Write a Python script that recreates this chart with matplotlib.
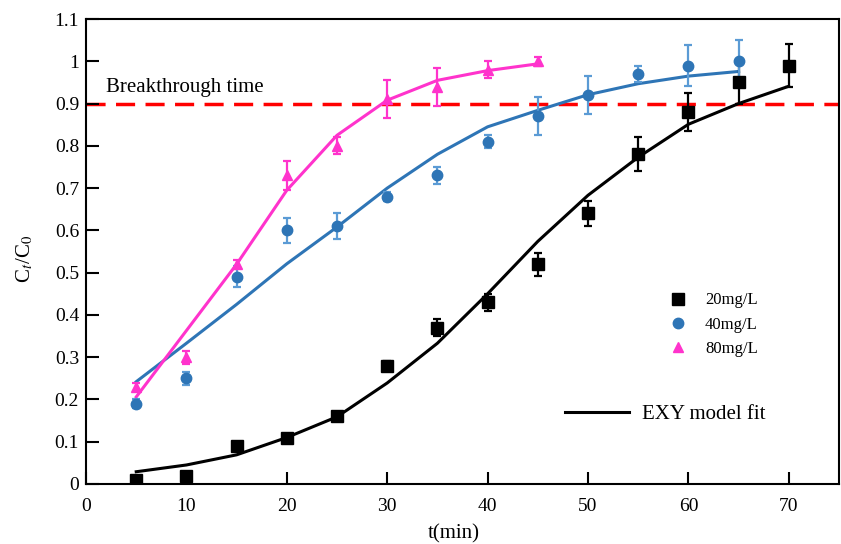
import matplotlib
matplotlib.use("Agg")
import matplotlib.pyplot as plt
from matplotlib.lines import Line2D
from matplotlib.ticker import FormatStrFormatter

plt.rcParams['font.family'] = ['Liberation Serif', 'DejaVu Serif']
plt.rcParams['mathtext.fontset'] = 'stix'

# sampling times (min)
t20 = [5, 10, 15, 20, 25, 30, 35, 40, 45, 50, 55, 60, 65, 70]
t40 = [5, 10, 15, 20, 25, 30, 35, 40, 45, 50, 55, 60, 65]
t80 = [5, 10, 15, 20, 25, 30, 35, 40, 45]

# measured Ct/C0 and standard deviations
c20 = [0.01, 0.02, 0.09, 0.11, 0.16, 0.28, 0.37, 0.43, 0.52, 0.64, 0.78, 0.88, 0.95, 0.99]
e20 = [0.005, 0.005, 0.008, 0.008, 0.008, 0.01, 0.02, 0.02, 0.027, 0.03, 0.04, 0.045, 0.05, 0.05]
c40 = [0.19, 0.25, 0.49, 0.60, 0.61, 0.68, 0.73, 0.81, 0.87, 0.92, 0.97, 0.99, 1.00]
e40 = [0.01, 0.015, 0.025, 0.03, 0.03, 0.01, 0.02, 0.015, 0.045, 0.045, 0.02, 0.048, 0.05]
c80 = [0.23, 0.30, 0.52, 0.73, 0.80, 0.91, 0.94, 0.98, 1.00]
e80 = [0.01, 0.015, 0.01, 0.035, 0.02, 0.045, 0.045, 0.02, 0.01]

# EXY model fitted curves
fit20 = [0.029, 0.045, 0.069, 0.11, 0.159, 0.239, 0.333, 0.45, 0.574, 0.683, 0.773, 0.851, 0.90, 0.941]
fit40 = [0.242, 0.333, 0.425, 0.521, 0.608, 0.70, 0.78, 0.845, 0.884, 0.921, 0.947, 0.965, 0.976]
fit80 = [0.206, 0.363, 0.52, 0.695, 0.825, 0.908, 0.955, 0.978, 0.994]

breakthrough = 0.9

blue = '#2E75B6'
blue_err = '#5B9BD5'
pink = '#FF33CC'

fig = plt.figure(figsize=(8.41, 5.44), dpi=100)
ax = fig.add_axes([0.1023, 0.1103, 0.8953, 0.8547])

ax.axhline(breakthrough, color='#FF0000', lw=2.5, ls=(0, (5.5, 3)), zorder=1)

ax.plot(t20, fit20, color='black', lw=2.2, zorder=2)
ax.plot(t40, fit40, color=blue, lw=2.2, zorder=2)
ax.plot(t80, fit80, color=pink, lw=2.2, zorder=2)

ax.errorbar(t20, c20, yerr=e20, fmt='s', color='black', ms=9, ecolor='black',
            elinewidth=1.6, capsize=3, capthick=1.6, zorder=3)
ax.errorbar(t40, c40, yerr=e40, fmt='o', color=blue, ms=7.5, ecolor=blue_err,
            elinewidth=1.6, capsize=3, capthick=1.6, zorder=3)
ax.errorbar(t80, c80, yerr=e80, fmt='^', color=pink, ms=7.5, ecolor=pink,
            elinewidth=1.6, capsize=3, capthick=1.6, zorder=3)

ax.text(2, 0.915, 'Breakthrough time', fontsize=15, ha='left', va='bottom')

ax.set_xlim(0, 75)
ax.set_ylim(0, 1.1)
ax.set_xticks(range(0, 71, 10))
ax.set_yticks([i / 10 for i in range(12)])
ax.yaxis.set_major_formatter(FormatStrFormatter('%g'))
ax.tick_params(direction='in', length=9, width=1.5, labelsize=14)
ax.tick_params(axis='x', pad=10)
ax.tick_params(axis='y', pad=5)
for s in ax.spines.values():
    s.set_linewidth(1.5)

ax.set_xlabel('t(min)', fontsize=15, labelpad=7, x=0.488)
ax.set_ylabel('C$_t$/C$_0$', fontsize=15, labelpad=14, y=0.485)

marks = [
    Line2D([], [], ls='none', marker='s', color='black', ms=9),
    Line2D([], [], ls='none', marker='o', color=blue, ms=7.5),
    Line2D([], [], ls='none', marker='^', color=pink, ms=7.5),
]
leg1 = ax.legend(marks, ['20mg/L', '40mg/L', '80mg/L'], loc='upper left',
                 bbox_to_anchor=(0.7756, 0.412), frameon=False, fontsize=12,
                 handlelength=1.0, handletextpad=1.1, labelspacing=0.5,
                 borderpad=0, borderaxespad=0)
ax.add_artist(leg1)
ax.legend([Line2D([], [], color='black', lw=2.2)], ['EXY model fit'],
          loc='center left', bbox_to_anchor=(0.636, 0.15), frameon=False,
          fontsize=15, handlelength=3.1, handletextpad=0.6,
          borderpad=0, borderaxespad=0)

fig.savefig('out.png', dpi=100)
